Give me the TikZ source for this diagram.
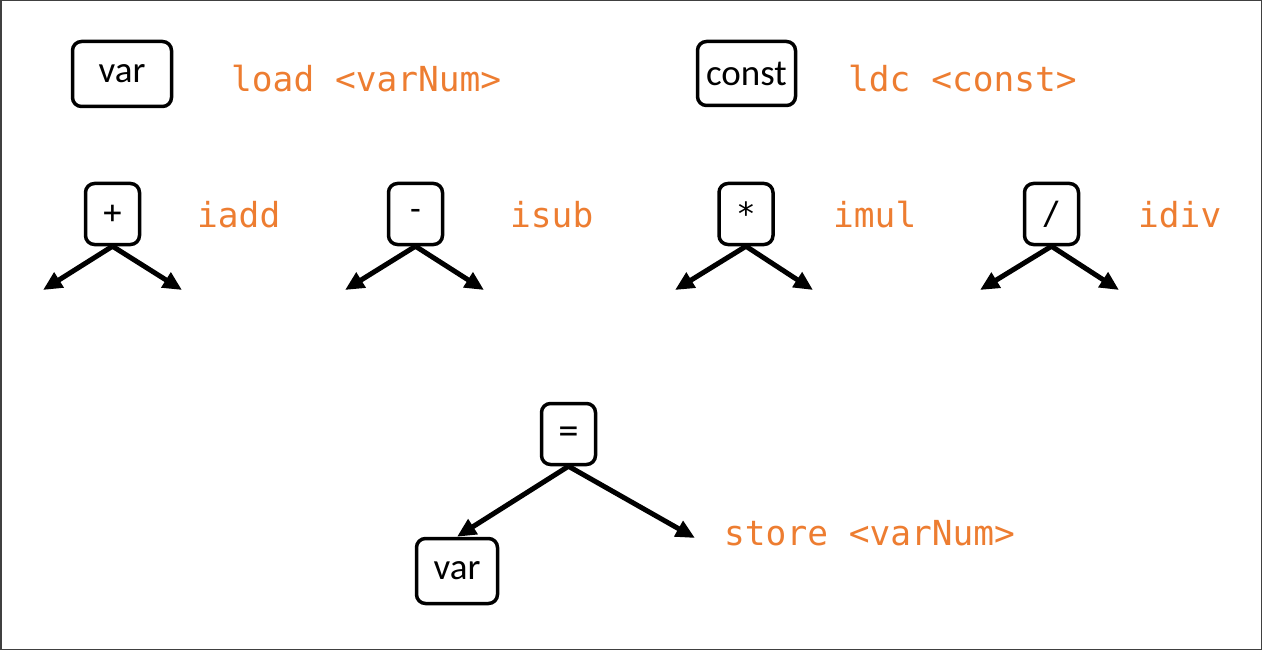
\documentclass[tikz,border=0pt]{standalone}
\usepackage{fontspec}
\setmainfont{Carlito}
\setmonofont{DejaVu Sans Mono}
\usetikzlibrary{arrows.meta,positioning}
\definecolor{codeorange}{RGB}{237,125,49}
\definecolor{framegray}{RGB}{64,64,64}

\begin{document}
\begin{tikzpicture}[x=1pt,y=-1pt,
    box/.style={draw,line width=3.5pt,rounded corners=9pt,inner sep=0pt,font=\fontsize{37}{40}\selectfont},
    opbox/.style={box,minimum width=54pt,minimum height=61pt,font=\ttfamily\fontsize{32}{34}\selectfont},
    instr/.style={anchor=base west,inner sep=0pt,text=codeorange,font=\ttfamily\fontsize{34.5}{40}\selectfont},
    edge/.style={line width=5pt,-{Triangle[length=19pt,width=17pt]}}]
    \useasboundingbox (0,0) rectangle (1262,650);
    \draw[framegray,line width=1.5pt] (0.75,0.75) rectangle (1261.25,649.25);
    % leaves
    \node[box,minimum width=99pt,minimum height=65pt] (var) at (122,74) {var};
    \node[instr] (load) at (231,92) {load <varNum>};
    \node[box,minimum width=98pt,minimum height=64pt] (const) at (746.5,73.5) {const};
    \node[instr] (ldc) at (848,92) {ldc <const>};
    % binary operators
    \node[opbox] (plus) at (112.5,214) {+};
    \node[instr] (iadd) at (197,227) {iadd};
    \coordinate (plusL) at (43,290);
    \coordinate (plusR) at (182,290);
    \draw[edge] (plus.south) -- (plusL);
    \draw[edge] (plus.south) -- (plusR);
    \node[opbox] (minus) at (415.5,214) {-};
    \node[instr] (isub) at (510,227) {isub};
    \coordinate (minusL) at (345,290);
    \coordinate (minusR) at (484,290);
    \draw[edge] (minus.south) -- (minusL);
    \draw[edge] (minus.south) -- (minusR);
    \node[opbox] (times) at (746,214) {*};
    \node[instr] (imul) at (833,227) {imul};
    \coordinate (timesL) at (675,290);
    \coordinate (timesR) at (813,290);
    \draw[edge] (times.south) -- (timesL);
    \draw[edge] (times.south) -- (timesR);
    \node[opbox] (divide) at (1051.5,214) {/};
    \node[instr] (idiv) at (1138,227) {idiv};
    \coordinate (divideL) at (980,290);
    \coordinate (divideR) at (1119,290);
    \draw[edge] (divide.south) -- (divideL);
    \draw[edge] (divide.south) -- (divideR);
    % assignment
    \node[opbox] (assign) at (568.5,434) {=};
    \node[box,minimum width=81pt,minimum height=65pt] (target) at (457,571) {var};
    \coordinate (assignR) at (695,538);
    \draw[edge] (assign.south) -- (target.north);
    \draw[edge] (assign.south) -- (assignR);
    \node[instr] (store) at (724,545) {store <varNum>};
\end{tikzpicture}
\end{document}
